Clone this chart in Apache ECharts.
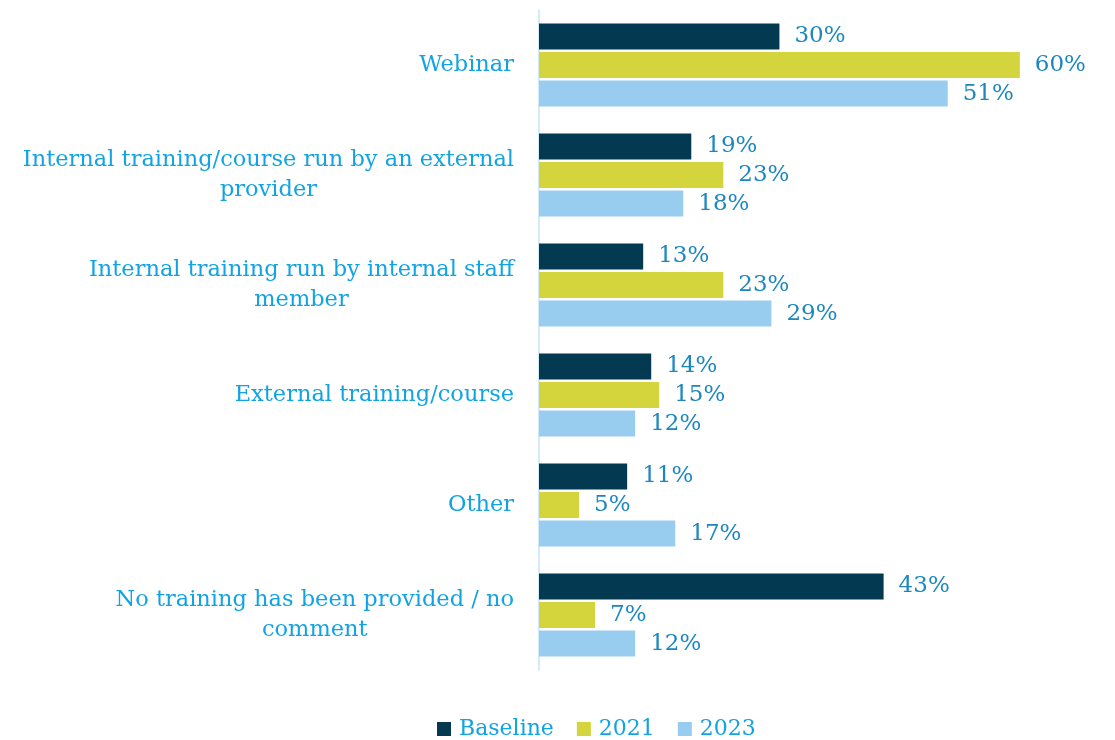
<!DOCTYPE html>
<html>
<head>
<meta charset="utf-8">
<script src="https://cdn.jsdelivr.net/npm/echarts@6/dist/echarts.min.js"></script>
<style>
  html, body { margin: 0; padding: 0; background: #fff; }
  #chart { width: 1115px; height: 740px; }
</style>
</head>
<body>
<div id="chart"></div>
<script>
const categories = [
  "Webinar",
  "Internal training/course run by an external\nprovider",
  "Internal training run by internal staff\nmember",
  "External training/course",
  "Other",
  "No training has been provided / no\ncomment"
];
const seriesNames = ["Baseline", "2021", "2023"];
const baseline = [30, 19, 13, 14, 11, 43];
const y2021 = [60, 23, 23, 15, 5, 7];
const y2023 = [51, 18, 29, 12, 17, 12];

const colors = ["#033A52", "#D4D43D", "#99CDF0"];
const font = "DejaVu Serif";

const chart = echarts.init(document.getElementById("chart"));

const mk = (name, data, color) => ({
  name,
  type: "bar",
  data,
  barWidth: 26,
  barGap: "10%",
  itemStyle: { color },
  label: {
    show: true,
    position: "right",
    distance: 15,
    formatter: "{c}%",
    color: "#1C87BF",
    fontFamily: font,
    fontSize: 23
  }
});

chart.setOption({
  animation: false,
  textStyle: { fontFamily: font },
  grid: { left: 539, right: 15, top: 10, bottom: 70 },
  xAxis: {
    type: "value",
    min: 0,
    max: 70,
    show: false
  },
  yAxis: {
    type: "category",
    inverse: true,
    data: categories,
    axisTick: { show: false },
    axisLine: { lineStyle: { color: "#C3E5F7", width: 1.5 } },
    axisLabel: {
      color: "#12A3E2",
      fontFamily: font,
      fontSize: 22.5,
      lineHeight: 30,
      align: "right",
      margin: 25,
      // each line centred inside a right-aligned block, like the original
      formatter: (v) => v.split("\n").map((s) => "{c|" + s + "}").join("\n"),
      rich: {
        c: { align: "center", color: "#12A3E2", fontFamily: font, fontSize: 22.5, lineHeight: 30 }
      }
    }
  },
  legend: {
    top: 713,
    left: 432,
    itemWidth: 14,
    itemHeight: 14,
    itemGap: 23,
    icon: "rect",
    textStyle: { color: "#12A3E2", fontFamily: font, fontSize: 22, padding: [0, 0, 0, 3] },
    data: seriesNames
  },
  series: [
    mk(seriesNames[0], baseline, colors[0]),
    mk(seriesNames[1], y2021, colors[1]),
    mk(seriesNames[2], y2023, colors[2])
  ]
});
</script>
</body>
</html>
